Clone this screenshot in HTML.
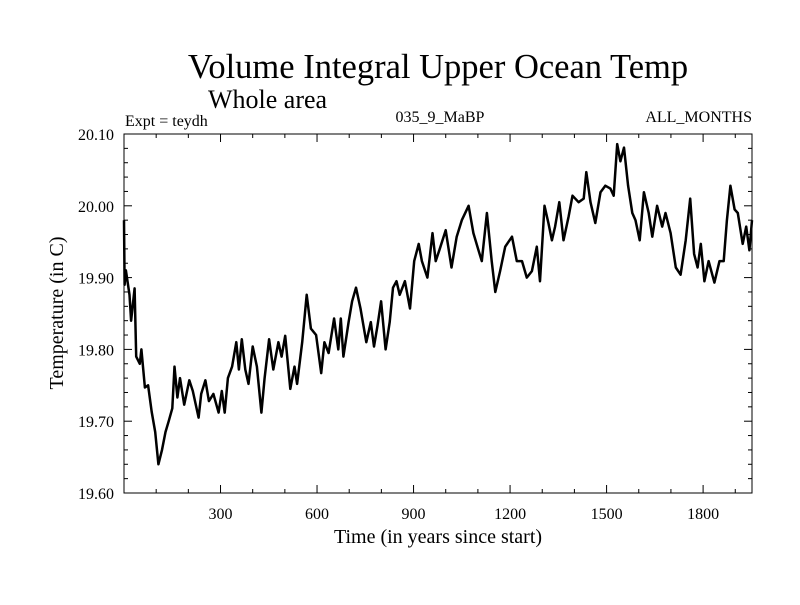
<!DOCTYPE html>
<html><head><meta charset="utf-8"><style>
body{margin:0;background:#fff}
svg text{font-family:"Liberation Serif",serif;fill:#000}
</style></head><body>
<svg id="chart" width="800" height="600">
<rect width="800" height="600" fill="#fff"/>
<text x="438" y="78" font-size="34.5" text-anchor="middle">Volume Integral Upper Ocean Temp</text>
<text x="208" y="108" font-size="26">Whole area</text>
<text x="125" y="126" font-size="16">Expt = teydh</text>
<text x="440" y="122" font-size="16" text-anchor="middle">035_9_MaBP</text>
<text x="752" y="122" font-size="16" text-anchor="end">ALL_MONTHS</text>
<text x="438" y="543" font-size="20" text-anchor="middle">Time (in years since start)</text>
<text transform="translate(63,313) rotate(-90)" font-size="20" text-anchor="middle">Temperature (in C)</text>
<g id="axes"></g>
<path id="series" fill="none" stroke="#000" stroke-width="2.5" stroke-linejoin="round"/>
<rect x="124" y="134" width="628" height="359" fill="none" stroke="#000" stroke-width="1"/>
</svg>
<script>
const years=[0,2,6,17,22,33,38,49,54,65,75,86,97,107,118,129,139,150,157,166,174,187,203,214,232,240,253,264,278,294,304,313,323,336,349,357,366,377,387,400,413,427,437,451,464,480,490,501,517,530,538,554,568,581,597,613,623,636,653,666,674,682,698,709,721,735,753,767,777,788,799,813,826,836,847,857,873,889,902,916,926,943,959,969,980,1000,1018,1034,1050,1071,1086,1102,1112,1128,1143,1154,1169,1185,1206,1221,1237,1252,1268,1283,1293,1307,1319,1330,1340,1353,1366,1382,1394,1413,1429,1437,1450,1465,1481,1496,1512,1522,1533,1543,1554,1567,1580,1590,1603,1616,1631,1642,1657,1673,1683,1699,1715,1730,1746,1760,1772,1783,1793,1804,1817,1835,1851,1864,1874,1885,1898,1908,1923,1934,1944,1952];
const temps=[19.98,19.89,19.91,19.876,19.84,19.885,19.79,19.78,19.80,19.747,19.75,19.713,19.685,19.64,19.66,19.685,19.70,19.718,19.776,19.733,19.76,19.723,19.757,19.742,19.705,19.738,19.757,19.728,19.738,19.712,19.742,19.712,19.76,19.776,19.81,19.772,19.814,19.772,19.752,19.804,19.776,19.712,19.76,19.814,19.772,19.81,19.79,19.819,19.745,19.776,19.752,19.81,19.876,19.829,19.82,19.767,19.81,19.795,19.843,19.80,19.843,19.79,19.838,19.867,19.886,19.857,19.81,19.838,19.804,19.833,19.867,19.80,19.838,19.886,19.895,19.876,19.895,19.857,19.923,19.947,19.923,19.90,19.962,19.923,19.938,19.966,19.914,19.957,19.98,20.00,19.962,19.938,19.923,19.99,19.923,19.88,19.909,19.943,19.957,19.923,19.923,19.90,19.909,19.943,19.895,20.00,19.976,19.952,19.971,20.005,19.952,19.985,20.014,20.005,20.01,20.047,20.005,19.976,20.019,20.028,20.024,20.014,20.086,20.062,20.081,20.028,19.99,19.98,19.952,20.019,19.99,19.957,20.00,19.971,19.99,19.962,19.914,19.904,19.952,20.01,19.933,19.914,19.947,19.895,19.923,19.893,19.923,19.923,19.98,20.028,19.995,19.99,19.947,19.971,19.938,19.98];
const xTicks=[300,600,900,1200,1500,1800];
const yTicks=[19.60,19.70,19.80,19.90,20.00,20.10];
const X0=124,X1=752,Y0=493,Y1=134,XMAX=1952,YMIN=19.6,YMAX=20.1;
const sx=v=>X0+v/XMAX*(X1-X0);
const sy=v=>Y0-(v-YMIN)/(YMAX-YMIN)*(Y0-Y1);
const ns="http://www.w3.org/2000/svg";
const ax=document.getElementById('axes');
function line(x1,y1,x2,y2,name){const l=document.createElementNS(ns,'line');l.setAttribute('x1',x1);l.setAttribute('y1',y1);l.setAttribute('x2',x2);l.setAttribute('y2',y2);l.setAttribute('stroke','#000');l.setAttribute('stroke-width','1');


ax.appendChild(l);}
for(let v=100;v<XMAX;v+=100){const x=sx(v),L=(v%300===0)?8:4;line(x,Y0,x,Y0-L,'x-tick');line(x,Y1,x,Y1+L,'x-tick-top');}
for(let i=1;i<25;i++){const v=YMIN+i*0.02,y=sy(v),L=(i%5===0)?8:4;line(X0,y,X0+L,y,'y-tick');line(X1,y,X1-L,y,'y-tick-right');}
xTicks.forEach(v=>{const t=document.createElementNS(ns,'text');t.setAttribute('x',sx(v));t.setAttribute('y',519);t.setAttribute('font-size','16');t.setAttribute('text-anchor','middle');t.textContent=v;


ax.appendChild(t);});
yTicks.forEach(v=>{const t=document.createElementNS(ns,'text');t.setAttribute('x',114);t.setAttribute('y',sy(v)+6);t.setAttribute('font-size','16');t.setAttribute('text-anchor','end');t.textContent=v.toFixed(2);


ax.appendChild(t);});
document.getElementById('series').setAttribute('d',years.map((y,i)=>(i?'L':'M')+sx(y).toFixed(1)+','+sy(temps[i]).toFixed(1)).join(''));
</script>
</body></html>
